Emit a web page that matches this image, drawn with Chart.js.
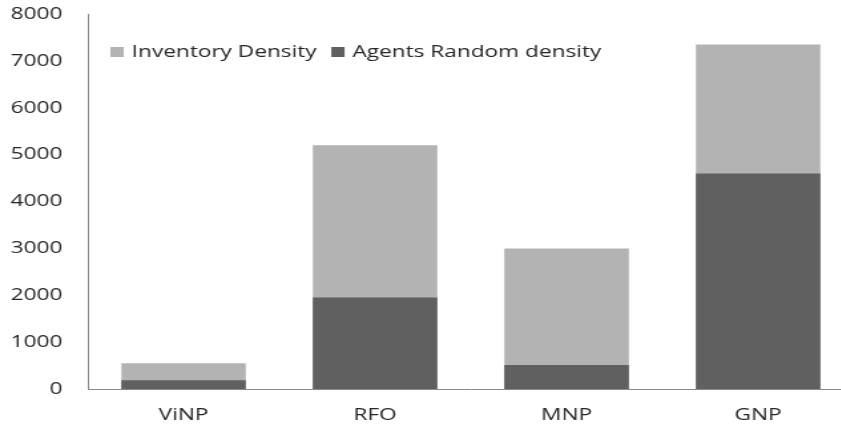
<!DOCTYPE html>
<html>
<head>
<meta charset="utf-8">
<script src="https://cdn.jsdelivr.net/npm/chart.js@4"></script>
<style>
  html, body { margin: 0; padding: 0; background: #fff; overflow: hidden; }
  /* the reference is stretched sideways, so the chart is drawn narrow and scaled */
  #wrap { width: 642px; height: 427px; transform: scaleX(1.33); transform-origin: 0 0; }
</style>
</head>
<body>
<div id="wrap"><canvas id="chart"></canvas></div>
<script>
const categories = ['ViNP', 'RFO', 'MNP', 'GNP'];
const inventoryDensity = [550, 5200, 3000, 7350];
const agentsRandomDensity = [185, 1950, 510, 4600];
const yTicks = [0, 1000, 2000, 3000, 4000, 5000, 6000, 7000, 8000];

const textColor = '#262626';
const axisColor = '#8a8a8a';
const fontFamily = '"Open Sans", sans-serif';

// one-row legend sitting inside the plot, Inventory first
const insideLegend = {
    id: 'insideLegend',
    afterDraw(chart) {
        const c = chart.ctx;
        const area = chart.chartArea;
        const box = 10;
        let x = area.left + 17;
        const y = area.top + 38;
        c.save();
        c.font = '17px ' + fontFamily;
        c.textBaseline = 'middle';
        [1, 0].forEach(i => {
            const ds = chart.data.datasets[i];
            c.fillStyle = ds.backgroundColor;
            c.fillRect(x, y - box / 2, box, box);
            x += box + 6;
            c.fillStyle = textColor;
            c.fillText(ds.label, x, y);
            x += c.measureText(ds.label).width + 11;
        });
        c.restore();
    }
};

const ctx = document.getElementById('chart').getContext('2d');
new Chart(ctx, {
    type: 'bar',
    data: {
        labels: categories,
        datasets: [
            {
                label: 'Agents Random density',
                data: agentsRandomDensity,
                backgroundColor: '#606060',
                borderWidth: 0,
                barPercentage: 0.65,
                categoryPercentage: 1
            },
            {
                label: 'Inventory Density',
                data: inventoryDensity,
                backgroundColor: '#b3b3b3',
                borderWidth: 0,
                barPercentage: 0.65,
                categoryPercentage: 1
            }
        ]
    },
    options: {
        responsive: true,
        maintainAspectRatio: false,
        animation: false,
        layout: { autoPadding: false, padding: { top: 14, right: 0, bottom: 0, left: 0 } },
        plugins: {
            tooltip: { enabled: false },
            legend: { display: false }
        },
        scales: {
            x: {
                stacked: true,
                grid: { display: false, drawTicks: false },
                border: { display: true, color: axisColor, width: 1 },
                ticks: {
                    color: textColor,
                    padding: 16,
                    font: { family: fontFamily, size: 17 }
                },
                afterFit(scale) {
                    scale.height = 38;
                    scale.paddingLeft = 0;
                    scale.paddingRight = 0;
                }
            },
            y: {
                stacked: false,
                min: 0,
                max: 8000,
                afterBuildTicks(scale) { scale.ticks = yTicks.map(v => ({ value: v })); },
                grid: { display: false, drawTicks: false },
                border: { display: true, color: axisColor, width: 1 },
                ticks: {
                    color: textColor,
                    padding: 19,
                    font: { family: fontFamily, size: 17 },
                    callback: v => String(v)
                },
                afterFit(scale) {
                    scale.width = 66;
                    scale.paddingTop = 0;
                    scale.paddingBottom = 0;
                }
            }
        }
    },
    plugins: [insideLegend]
});
</script>
</body>
</html>
